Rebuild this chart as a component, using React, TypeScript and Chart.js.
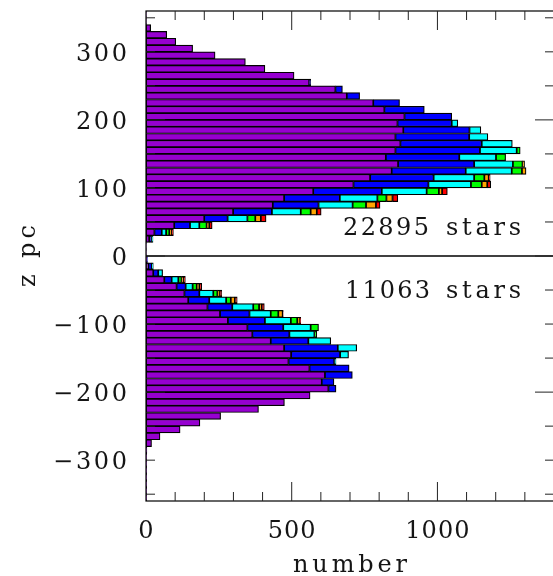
import React, { useEffect, useRef } from 'react';
import { Chart, registerables } from 'chart.js';

Chart.register(...registerables);

// Bin centres (pc), from top to bottom
const zBins = [
  355, 345, 335, 325, 315, 305, 295, 285, 275, 265,
  255, 245, 235, 225, 215, 205, 195, 185, 175, 165,
  155, 145, 135, 125, 115, 105, 95, 85, 75, 65,
  55, 45, 35, 25, 15, 5, -5, -15, -25, -35,
  -45, -55, -65, -75, -85, -95, -105, -115, -125, -135,
  -145, -155, -165, -175, -185, -195, -205, -215, -225, -235,
  -245, -255, -265, -275, -285, -295, -305, -315, -325, -335,
  -345, -355,
];

const purpleCounts = [
  1, 1, 16, 71, 102, 160, 237, 341, 408, 508,
  560, 650, 689, 780, 818, 887, 863, 883, 856, 873,
  856, 823, 865, 843, 769, 712, 574, 474, 435, 299,
  200, 97, 29, 11, 1, 1, 3, 8, 25, 63,
  105, 132, 145, 211, 254, 281, 348, 365, 428, 474,
  498, 489, 561, 614, 603, 626, 563, 475, 386, 256,
  185, 117, 48, 19, 3, 2, 2, 2, 2, 2,
  2, 2,
];

const blueCounts = [
  0, 0, 0, 0, 0, 0, 0, 0, 0, 0,
  5, 24, 44, 90, 137, 162, 186, 227, 253, 279,
  290, 252, 261, 254, 218, 257, 235, 191, 157, 133,
  80, 54, 25, 8, 0, 0, 2, 12, 17, 25,
  31, 51, 72, 85, 101, 127, 123, 127, 129, 184,
  168, 157, 136, 94, 42, 26, 0, 0, 0, 0,
  0, 0, 0, 0, 0, 0, 0, 0, 0, 0,
  0, 0,
];

const cyanCounts = [
  0, 0, 0, 0, 0, 0, 0, 0, 0, 0,
  0, 0, 0, 0, 0, 0, 21, 39, 64, 105,
  126, 126, 133, 158, 139, 146, 154, 129, 117, 99,
  68, 32, 15, 5, 0, 0, 0, 5, 15, 23,
  24, 48, 58, 72, 73, 89, 94, 86, 77, 65,
  29, 6, 0, 0, 0, 0, 0, 0, 0, 0,
  0, 0, 0, 0, 0, 0, 0, 0, 0, 0,
  0, 0,
];

const greenCounts = [
  0, 0, 0, 0, 0, 0, 0, 0, 0, 0,
  0, 0, 0, 0, 0, 0, 0, 0, 0, 0,
  12, 33, 33, 35, 35, 37, 42, 31, 46, 34,
  27, 25, 11, 0, 0, 0, 0, 0, 0, 11,
  14, 14, 16, 20, 26, 22, 27, 8, 0, 0,
  0, 0, 0, 0, 0, 0, 0, 0, 0, 0,
  0, 0, 0, 0, 0, 0, 0, 0, 0, 0,
  0, 0,
];

const orangeCounts = [
  0, 0, 0, 0, 0, 0, 0, 0, 0, 0,
  0, 0, 0, 0, 0, 0, 0, 0, 0, 0,
  0, 0, 7, 14, 15, 19, 11, 21, 34, 21,
  19, 9, 9, 0, 0, 0, 0, 0, 0, 8,
  9, 9, 14, 9, 15, 10, 0, 0, 0, 0,
  0, 0, 0, 0, 0, 0, 0, 0, 0, 0,
  0, 0, 0, 0, 0, 0, 0, 0, 0, 0,
  0, 0,
];

const redCounts = [
  0, 0, 0, 0, 0, 0, 0, 0, 0, 0,
  0, 0, 0, 0, 0, 0, 0, 0, 0, 0,
  0, 0, 0, 0, 5, 12, 18, 18, 14, 15,
  18, 10, 5, 0, 0, 0, 0, 0, 0, 5,
  8, 6, 8, 9, 2, 2, 0, 0, 0, 0,
  0, 0, 0, 0, 0, 0, 0, 0, 0, 0,
  0, 0, 0, 0, 0, 0, 0, 0, 0, 0,
  0, 0,
];

const seriesNames = ['purple', 'blue', 'cyan', 'green', 'orange', 'red'];
const seriesColors = ['#9600D0', '#0000FF', '#00FFFF', '#00FF00', '#FFA500', '#FF0000'];
const seriesValues = [purpleCounts, blueCounts, cyanCounts, greenCounts, orangeCounts, redCounts];

// Axes
const xMin = 0;
const xMax = 1400;
const yMin = -360;
const yMax = 360;
const xLabelValues = [0, 500, 1000];
const xLabelTexts = ['0', '500', '1000'];
const xMajorTicks = [500, 1000];
const xMinorTicks = [100, 200, 300, 400, 600, 700, 800, 900, 1100, 1200, 1300];
const yLabelValues = [300, 200, 100, 0, -100, -200, -300];
const yLabelTexts = ['300', '200', '100', '0', '−100', '−200', '−300'];
const yMajorTicks = [200, 0, -200];
const yMinorTicks = [350, 300, 250, 150, 100, 50, -50, -100, -150, -250, -300, -350];

const xTitle = 'number';
const yTitle = 'z pc';
const upperNote = '22895 stars';
const lowerNote = '11063 stars';

const FONT = '24px "DejaVu Serif", "Liberation Serif", serif';

function spacedText(
  ctx: CanvasRenderingContext2D,
  text: string,
  x: number,
  y: number,
  width: number,
  align: 'left' | 'center' | 'right'
) {
  const chars = Array.from(text);
  const widths = chars.map((c) => ctx.measureText(c).width);
  const natural = widths.reduce((a, b) => a + b, 0);
  const extra = chars.length > 1 ? (width - natural) / (chars.length - 1) : 0;
  const total = chars.length > 1 ? width : natural;
  let pos = align === 'left' ? x : align === 'right' ? x - total : x - total / 2;
  ctx.textAlign = 'left';
  chars.forEach((c, i) => {
    ctx.fillText(c, pos, y);
    pos += widths[i] + extra;
  });
}

const overlayPlugin = {
  id: 'overlay',
  afterDraw(chart: any) {
    const ctx: CanvasRenderingContext2D = chart.ctx;
    const xs = chart.scales.x;
    const ys = chart.scales.y;
    const { left, right, top, bottom } = chart.chartArea;
    ctx.save();
    ctx.strokeStyle = '#000';

    // zero line
    const y0 = ys.getPixelForValue(0);
    ctx.lineWidth = 1.3;
    ctx.beginPath();
    ctx.moveTo(left, y0);
    ctx.lineTo(right, y0);
    ctx.stroke();

    // frame
    ctx.lineWidth = 1.2;
    ctx.strokeRect(left, top, right - left, bottom - top);

    // ticks
    ctx.lineWidth = 1;
    ctx.strokeStyle = '#222';
    const tick = (x1: number, y1: number, x2: number, y2: number) => {
      ctx.beginPath();
      ctx.moveTo(x1, y1);
      ctx.lineTo(x2, y2);
      ctx.stroke();
    };
    xMajorTicks.forEach((v) => {
      const px = xs.getPixelForValue(v);
      tick(px, bottom, px, bottom - 19);
      tick(px, top, px, top + 19);
    });
    xMinorTicks.forEach((v) => {
      const px = xs.getPixelForValue(v);
      tick(px, bottom, px, bottom - 9);
      tick(px, top, px, top + 9);
    });
    yMajorTicks.forEach((v) => {
      const py = ys.getPixelForValue(v);
      tick(left, py, left + 19, py);
      tick(right, py, right - 19, py);
    });
    yMinorTicks.forEach((v) => {
      const py = ys.getPixelForValue(v);
      tick(left, py, left + 9, py);
      tick(right, py, right - 9, py);
    });

    // tick labels
    ctx.fillStyle = '#151515';
    ctx.font = FONT;
    ctx.textBaseline = 'alphabetic';
    xLabelValues.forEach((v, i) => {
      const px = xs.getPixelForValue(v);
      const t = xLabelTexts[i];
      const w = t.length === 1 ? ctx.measureText(t).width : 16.6 * t.length - 2;
      spacedText(ctx, t, px, 538, w, 'center');
    });
    yLabelValues.forEach((v, i) => {
      const py = ys.getPixelForValue(v) + 9;
      let t = yLabelTexts[i];
      let neg = false;
      if (t.startsWith('−')) {
        neg = true;
        t = t.slice(1);
      }
      const w = t.length === 1 ? ctx.measureText(t).width : 17 * t.length;
      spacedText(ctx, t, 127, py, w, 'right');
      if (neg) {
        ctx.textAlign = 'center';
        ctx.fillText('−', 127 - w - 13, py);
      }
    });

    // axis titles
    spacedText(ctx, xTitle, (left + right) / 2, 572, 114, 'center');
    ctx.save();
    ctx.translate(35, (top + bottom) / 2);
    ctx.rotate(-Math.PI / 2);
    spacedText(ctx, yTitle, 0, 0, 62, 'center');
    ctx.restore();

    // annotations
    const [uNum, uWord] = upperNote.split(' ');
    spacedText(ctx, uNum, 343, 235, 86, 'left');
    spacedText(ctx, uWord, 446, 235, 75, 'left');
    const [lNum, lWord] = lowerNote.split(' ');
    spacedText(ctx, lNum, 345, 298, 85, 'left');
    spacedText(ctx, lWord, 446, 298, 75, 'left');

    ctx.restore();
  },
};

export default function App() {
  const canvasRef = useRef<HTMLCanvasElement | null>(null);

  useEffect(() => {
    const canvas = canvasRef.current;
    if (!canvas) return;
    const datasets = seriesValues.map((vals, si) => ({
      label: seriesNames[si],
      data: zBins.map((z, i) => ({ x: vals[i] ? vals[i] : null, y: z })),
      backgroundColor: seriesColors[si],
      borderColor: '#000',
      borderWidth: 1.2,
      borderSkipped: false as const,
      barPercentage: 1,
      categoryPercentage: 1,
    }));
    const chart = new Chart(canvas, {
      type: 'bar',
      data: { datasets: datasets as any },
      options: {
        indexAxis: 'y',
        animation: false,
        responsive: false,
        devicePixelRatio: 1,
        layout: { padding: { left: 146, top: 11, right: 6, bottom: 75 } },
        scales: {
          x: { type: 'linear', min: xMin, max: xMax, stacked: true, offset: false, display: false },
          y: { type: 'linear', min: yMin, max: yMax, stacked: true, offset: false, display: false },
        },
        plugins: {
          legend: { display: false },
          tooltip: { enabled: false },
        },
      },
      plugins: [overlayPlugin],
    });
    return () => chart.destroy();
  }, []);

  return (
    <div
      style={{
        position: 'absolute',
        left: 0,
        top: 0,
        width: 553,
        height: 576,
        overflow: 'hidden',
        background: '#fff',
      }}
    >
      <canvas ref={canvasRef} width={560} height={576} style={{ display: 'block' }} />
    </div>
  );
}
